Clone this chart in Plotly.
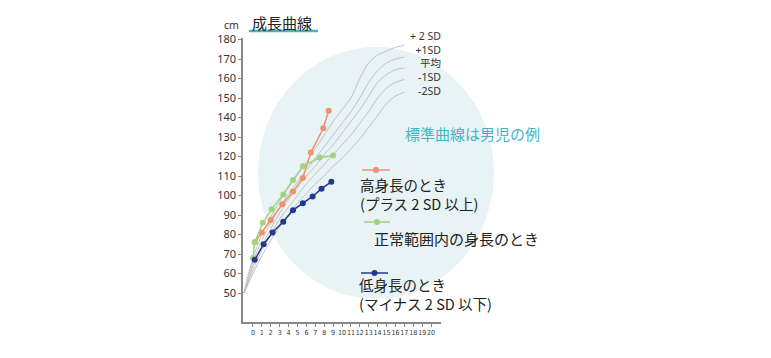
import plotly.graph_objects as go

# ---------------- data ----------------
sd_ages = [-1, -0.5, 0, 1, 2, 3, 4, 5, 6, 7, 8, 9, 10, 11, 12, 13, 14, 15, 16, 17]
sd_plus2 = [50, 60, 68, 80, 89, 97, 105, 111, 117, 124, 131, 138, 144, 150, 160, 168, 172, 174, 176, 177]
sd_plus1 = [50, 58, 66, 77, 86, 94, 101, 107, 113, 119, 125, 131, 137, 143, 150, 158, 164, 168, 170, 171]
sd_mean = [50, 57, 64, 74, 83, 91, 98, 104, 110, 115, 121, 126, 132, 138, 144, 151, 158, 162, 164.5, 165.5]
sd_minus1 = [50, 56, 62, 72, 80, 88, 94, 100, 106, 111, 116, 121, 126, 131, 137, 143, 150, 155, 158, 159.5]
sd_minus2 = [50, 55, 60, 69, 77, 84, 90, 96, 101, 106, 110, 115, 119, 124, 129, 135, 141, 147, 151, 153]
sd_labels = ["+ 2 SD", "+1SD", "平均", "-1SD", "-2SD"]

tall_age = [0.2, 1.0, 2.0, 3.3, 4.5, 5.6, 6.5, 7.9, 8.5]
tall_h = [76, 81, 87.5, 95.5, 102, 109, 122, 134.5, 143.5]

normal_age = [0, 0.2, 1.1, 2.1, 3.4, 4.5, 5.6, 7.5, 9.0]
normal_h = [68, 76, 86, 93, 100.5, 108, 115, 119.5, 120.5]

short_age = [0.2, 1.2, 2.2, 3.4, 4.5, 5.6, 6.7, 7.7, 8.8]
short_h = [67, 75, 81, 86.5, 92.5, 96, 99.5, 103.5, 107]

x_ticks = list(range(0, 21))
y_ticks = list(range(50, 190, 10))

# ---------------- styling ----------------
OFF = 8                      # page body margin
W, H = 771 - OFF, 358 - OFF  # figure size
L, R, T, B = 243, 441, 38, 322   # plot area in screen pixels
def px(xp):
    return (xp - L) / (R - L)
def py(yp):
    return (B - yp) / (B - T)

ORANGE = "#ef9274"
GREEN = "#a5d27f"
NAVY = "#22398e"
GRAY = "#c2c2c2"
TEAL = "#45b5c6"
JP = "Noto Sans CJK JP"

fig = go.Figure()

for ys in [sd_plus2, sd_plus1, sd_mean, sd_minus1, sd_minus2]:
    fig.add_trace(go.Scatter(x=sd_ages, y=ys, mode="lines",
                             line=dict(color=GRAY, width=1, shape="spline", smoothing=0.8),
                             hoverinfo="skip"))

for xs, ys, c in [(tall_age, tall_h, ORANGE), (normal_age, normal_h, GREEN), (short_age, short_h, NAVY)]:
    fig.add_trace(go.Scatter(x=xs, y=ys, mode="lines+markers",
                             line=dict(color=c, width=1.5),
                             marker=dict(color=c, size=6)))

shapes = [
    dict(type="circle", xref="paper", yref="paper", x0=px(258), x1=px(494), y0=py(299), y1=py(47),
         fillcolor="#e7f3f5", line=dict(width=0), layer="below"),
    dict(type="line", xref="paper", yref="paper", x0=px(249), x1=px(318), y0=py(31), y1=py(31),
         line=dict(color=TEAL, width=2.5)),
]
for (x0, x1, yy, c) in [(362, 390, 170, ORANGE), (364, 390, 222, GREEN), (361, 388, 273, NAVY)]:
    shapes.append(dict(type="line", xref="paper", yref="paper", x0=px(x0), x1=px(x1), y0=py(yy), y1=py(yy),
                       line=dict(color=c, width=1.5)))
    cx = (x0 + x1) / 2
    shapes.append(dict(type="circle", xref="paper", yref="paper", x0=px(cx - 3), x1=px(cx + 3),
                       y0=py(yy + 3), y1=py(yy - 3), fillcolor=c, line=dict(width=0)))

annotations = []
def ann(text, x, y, size, color="#222", anchor="left", family=JP, align="left"):
    annotations.append(dict(text=text, xref="paper", yref="paper", x=px(x), y=py(y),
                            xanchor=anchor, yanchor="middle", showarrow=False, borderpad=0,
                            align=align, font=dict(family=family, size=size, color=color)))

ann("成長曲線", 251, 22, 15)
ann("cm", 231, 25, 10.5, "#333", "center", "Noto Sans")
ann("<br>".join(sd_labels), 442, 63, 10.5, "#333", "right", "Noto Sans, " + JP, "right")
ann("標準曲線は男児の例", 404, 133, 15, TEAL)
ann("高身長のとき<br>(プラス 2 SD 以上)", 359, 194, 14.5)
ann("正常範囲内の身長のとき", 373, 238, 15)
ann("低身長のとき<br>(マイナス 2 SD 以下)", 358, 294, 14.5)

fig.update_layout(
    width=W, height=H,
    margin=dict(l=L - OFF, r=W - (R - OFF), t=T - OFF, b=H - (B - OFF), pad=0),
    paper_bgcolor="white", plot_bgcolor="rgba(0,0,0,0)",
    showlegend=False,
    shapes=shapes, annotations=annotations,
    xaxis=dict(range=[-1.12, 21.12], tickvals=x_ticks, ticks="outside", ticklen=3, tickcolor="#888",
               tickangle=0,
               showline=True, linecolor="#888", linewidth=1.5, showgrid=False, zeroline=False,
               tickfont=dict(family="DejaVu Sans Condensed, Liberation Sans Narrow, sans-serif", size=7, color="#333")),
    yaxis=dict(range=[50 - (B - 293) / 1.95, 50 + (293 - T) / 1.95], tickvals=y_ticks, ticks="outside", ticklen=3,
               tickcolor="#888",
               showline=True, linecolor="#888", linewidth=1.5, showgrid=False, zeroline=False,
               tickfont=dict(family="Noto Sans", size=11, color="#333")),
)

fig.write_html("out.html")
